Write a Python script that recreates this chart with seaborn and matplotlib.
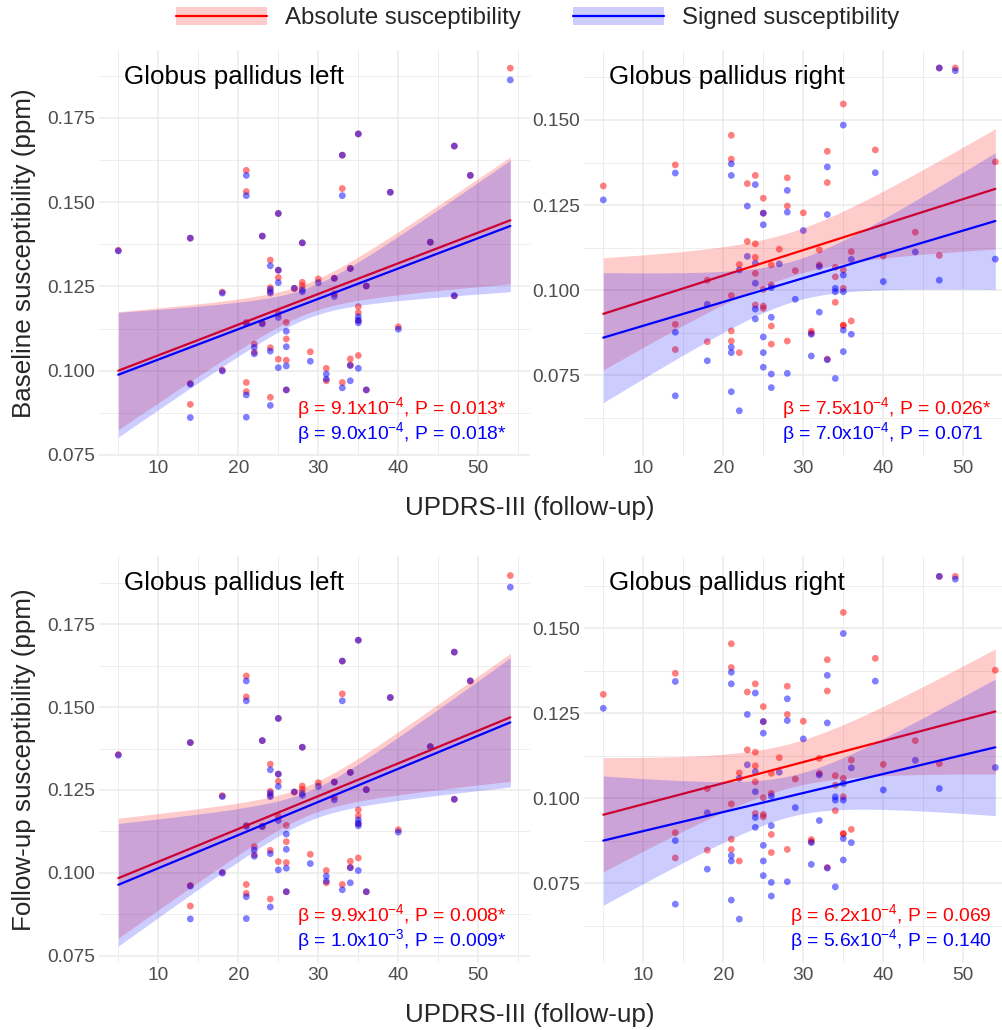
import numpy as np
import pandas as pd
import matplotlib
matplotlib.use("Agg")
import matplotlib.pyplot as plt
import seaborn as sns
from matplotlib.patches import Patch
from matplotlib.lines import Line2D
from matplotlib.legend_handler import HandlerTuple
from matplotlib.ticker import MultipleLocator, FormatStrFormatter

# ---------------------------------------------------------------- data
# UPDRS-III at follow-up, one entry per subject
updrs = [5, 14, 14, 14, 18, 18, 21, 21, 21, 21, 21, 22, 22, 23, 23,
         24, 24, 24, 24, 24, 25, 25, 25, 25, 25, 26, 26, 26, 26, 27,
         28, 28, 28, 29, 30, 31, 31, 32, 32, 33, 33, 33, 34, 34, 34,
         35, 35, 35, 35, 35, 36, 36, 39, 40, 44, 47, 47, 49, 54]

# globus pallidus susceptibility (ppm) per subject
gp_left_abs = [0.1357, 0.1393, 0.0962, 0.0900, 0.1233, 0.1002,
               0.1594, 0.1531, 0.1143, 0.0965, 0.0938, 0.1079, 0.1055,
               0.1399, 0.1141, 0.1328, 0.1246, 0.1234, 0.1068, 0.0921,
               0.1466, 0.1298, 0.1276, 0.1170, 0.1034, 0.1143, 0.1094,
               0.1031, 0.0943, 0.1244, 0.1379, 0.1252, 0.1262, 0.1056,
               0.1272, 0.1007, 0.0970, 0.1274, 0.1228, 0.1639, 0.1540,
               0.0965, 0.1303, 0.1035, 0.1017, 0.1702, 0.1190, 0.1148,
               0.1045, 0.1172, 0.1251, 0.0943, 0.1529, 0.1130, 0.1381,
               0.1666, 0.1222, 0.1579, 0.1897]
gp_left_sgn = [0.1355, 0.1393, 0.0960, 0.0861, 0.1230, 0.0999,
               0.1579, 0.1519, 0.1140, 0.0928, 0.0862, 0.1069, 0.1050,
               0.1399, 0.1139, 0.1311, 0.1241, 0.1230, 0.1058, 0.0897,
               0.1466, 0.1298, 0.1261, 0.1158, 0.1009, 0.1117, 0.1071,
               0.1014, 0.0943, 0.1244, 0.1379, 0.1234, 0.1240, 0.1028,
               0.1261, 0.0990, 0.0975, 0.1274, 0.1220, 0.1639, 0.1519,
               0.0949, 0.1303, 0.0970, 0.1015, 0.1702, 0.1160, 0.1142,
               0.1007, 0.1150, 0.1251, 0.0943, 0.1529, 0.1123, 0.1381,
               0.1666, 0.1222, 0.1579, 0.1862]
gp_right_abs = [0.1306, 0.1368, 0.0899, 0.0825, 0.1029, 0.0848,
                0.1455, 0.1385, 0.0984, 0.0880, 0.0850, 0.1075, 0.0816,
                0.1313, 0.1143, 0.1337, 0.1136, 0.1096, 0.1049, 0.0956,
                0.1270, 0.1226, 0.1002, 0.0953, 0.0946, 0.1074, 0.1015,
                0.0894, 0.0841, 0.1120, 0.1330, 0.1247, 0.0850, 0.1057,
                0.1227, 0.0879, 0.0873, 0.1118, 0.1074, 0.1408, 0.1316,
                0.0797, 0.1067, 0.1039, 0.0964, 0.1547, 0.1059, 0.1005,
                0.0897, 0.0895, 0.1113, 0.0909, 0.1412, 0.1100, 0.1170,
                0.1653, 0.1102, 0.1653, 0.1377]
gp_right_sgn = [0.1265, 0.1344, 0.0876, 0.0689, 0.0958, 0.0792,
                0.1371, 0.1337, 0.0832, 0.0816, 0.0701, 0.1059, 0.0645,
                0.1247, 0.1099, 0.1310, 0.1079, 0.1020, 0.0944, 0.0915,
                0.1192, 0.1226, 0.0862, 0.0816, 0.0773, 0.1007, 0.0920,
                0.0753, 0.0713, 0.1077, 0.1293, 0.1229, 0.0755, 0.0973,
                0.1175, 0.0806, 0.0870, 0.1069, 0.0935, 0.1362, 0.1222,
                0.0795, 0.1005, 0.0995, 0.0740, 0.1485, 0.1044, 0.0995,
                0.0882, 0.0819, 0.1090, 0.0870, 0.1345, 0.1025, 0.1112,
                0.1653, 0.1029, 0.1645, 0.1091]

# panel order: baseline-left, baseline-right, follow-up-left, follow-up-right
panel_titles = ["Globus pallidus left", "Globus pallidus right",
                "Globus pallidus left", "Globus pallidus right"]
row_titles = ["Baseline susceptibility (ppm)", "Follow-up susceptibility (ppm)"]
x_title = "UPDRS-III (follow-up)"
series_names = ["Absolute susceptibility", "Signed susceptibility"]

# model slopes and fitted value at UPDRS-III = 5
beta_abs = [9.1e-4, 7.5e-4, 9.9e-4, 6.2e-4]
beta_sgn = [9.0e-4, 7.0e-4, 1.0e-3, 5.6e-4]
fit5_abs = [0.1000, 0.0930, 0.0984, 0.0952]
fit5_sgn = [0.0988, 0.0860, 0.0964, 0.0876]
p_abs = ["0.013*", "0.026*", "0.008*", "0.069"]
p_sgn = ["0.018*", "0.071", "0.009*", "0.140"]
# 95% CI half-width at UPDRS 5, at its narrowest, and at UPDRS 54
ci_abs = [(0.0175, 0.0045, 0.0188), (0.0165, 0.0065, 0.0177),
          (0.0181, 0.0045, 0.0193), (0.0168, 0.0065, 0.0184)]
ci_sgn = [(0.0185, 0.0045, 0.0195), (0.0191, 0.0060, 0.0201),
          (0.0185, 0.0045, 0.0195), (0.0190, 0.0060, 0.0201)]

y_limits = [(0.0747, 0.1952), (0.0512, 0.1707), (0.0728, 0.1956), (0.0516, 0.1713)]

# ---------------------------------------------------------------- style
RED, BLUE = "#FF0000", "#0000FF"
sns.set_style("white")
plt.rcParams["font.family"] = ["Liberation Sans", "DejaVu Sans"]
plt.rcParams["mathtext.fontset"] = "custom"
plt.rcParams["mathtext.rm"] = "Liberation Sans"
plt.rcParams["mathtext.it"] = "Liberation Sans:italic"
plt.rcParams["mathtext.bf"] = "Liberation Sans:bold"

W, H = 1002, 1030
fig = plt.figure(figsize=(W / 100, H / 100), dpi=100)


def frac_rect(left, right, top, bottom):
    return [left / W, 1 - bottom / H, (right - left) / W, (bottom - top) / H]


cols = [(98.7, 530.0), (583.7, 1002.0)]
rows = [(49.6, 456.0), (556.0, 963.0)]
x_lo = 2.55
px_per_unit = 8.0


def half_width(x, h5, h0, h54):
    r = np.sqrt((h5 ** 2 - h0 ** 2) / (h54 ** 2 - h0 ** 2))
    xc = (5 + 54 * r) / (1 + r)
    k = (h54 ** 2 - h0 ** 2) / (54 - xc) ** 2
    return np.sqrt(h0 ** 2 + k * (x - xc) ** 2)


def beta_label(b, p):
    exp = int(np.floor(np.log10(abs(b))))
    mant = b / 10 ** exp
    return r"β = %.1fx10$^{\mathregular{%d}}$, P = %s" % (mant, exp, p)


points_by_col = [(gp_left_abs, gp_left_sgn), (gp_right_abs, gp_right_sgn)]
xs = np.linspace(5, 54, 200)
axes = []
for i in range(4):
    r, c = divmod(i, 2)
    left, right = cols[c]
    top, bottom = rows[r]
    ax = fig.add_axes(frac_rect(left, right, top, bottom))
    axes.append(ax)
    ax.set_xlim(x_lo, x_lo + (right - left) / px_per_unit)
    ax.set_ylim(*y_limits[i])

    ab, sg = points_by_col[c]
    df = pd.DataFrame({
        "updrs": updrs + updrs,
        "chi": list(ab) + list(sg),
        "measure": [series_names[0]] * len(ab) + [series_names[1]] * len(sg),
    })
    sns.scatterplot(data=df, x="updrs", y="chi", hue="measure",
                    palette={series_names[0]: RED, series_names[1]: BLUE},
                    alpha=0.5, s=24, linewidth=0, legend=False, ax=ax, zorder=1)

    z = 2
    for f5, b, ci, col in ((fit5_abs[i], beta_abs[i], ci_abs[i], RED),
                           (fit5_sgn[i], beta_sgn[i], ci_sgn[i], BLUE)):
        fit = f5 + b * (xs - 5)
        hw = half_width(xs, *ci)
        ax.fill_between(xs, fit - hw, fit + hw, color=col, alpha=0.2,
                        linewidth=0, zorder=z)
        sns.lineplot(x=xs, y=fit, color=col, linewidth=1.6, ax=ax, zorder=z + 1)
        z += 2

    # grid in the style of theme_minimal
    ax.xaxis.set_major_locator(MultipleLocator(10))
    ax.xaxis.set_minor_locator(MultipleLocator(5))
    ax.yaxis.set_major_locator(MultipleLocator(0.025))
    ax.yaxis.set_minor_locator(MultipleLocator(0.0125))
    ax.yaxis.set_major_formatter(FormatStrFormatter("%.3f"))
    ax.xaxis.set_major_formatter(FormatStrFormatter("%d"))
    ax.set_axisbelow(True)
    ax.grid(which="major", color="#EBEBEB", linewidth=1.1)
    ax.grid(which="minor", color="#EBEBEB", linewidth=0.6)
    ax.tick_params(which="both", length=0, labelsize=13.8, labelcolor="#4D4D4D")
    ax.tick_params(axis="y", pad=2.5)
    ax.tick_params(axis="x", pad=3)
    for s in ax.spines.values():
        s.set_visible(False)
    ax.set_xlabel("")
    ax.set_ylabel("")

    # panel title
    ax.text(25 / (right - left), 1 - 34 / (bottom - top), panel_titles[i],
            transform=ax.transAxes, fontsize=18.7, color="black",
            ha="left", va="baseline")

# statistics boxes: lines left-aligned inside a right-aligned block
fig.canvas.draw()
renderer = fig.canvas.get_renderer()
for i, ax in enumerate(axes):
    r, c = divmod(i, 2)
    left, right = cols[c]
    top, bottom = rows[r]
    ph = bottom - top
    t1 = ax.text(0, (17 + 24.7) / ph, beta_label(beta_abs[i], p_abs[i]),
                 transform=ax.transAxes, color=RED, fontsize=13.9,
                 ha="left", va="baseline")
    t2 = ax.text(0, 17 / ph, beta_label(beta_sgn[i], p_sgn[i]),
                 transform=ax.transAxes, color=BLUE, fontsize=13.9,
                 ha="left", va="baseline")
    wmax = max(t.get_window_extent(renderer).width for t in (t1, t2))
    right_px = left + (53.575 - x_lo) * px_per_unit
    x_frac = (right_px - wmax - left) / (right - left)
    t1.set_x(x_frac)
    t2.set_x(x_frac)

# shared axis titles
for r, (top, bottom) in enumerate(rows):
    fig.text(24 / W, 1 - ((top + bottom) / 2) / H, row_titles[r],
             rotation=90, fontsize=18.7, ha="center", va="center")
    fig.text(530 / W, 1 - (bottom + 59) / H, x_title,
             fontsize=18.7, ha="center", va="baseline")

handles = [(Patch(facecolor=RED, alpha=0.2, edgecolor="none"),
            Line2D([], [], color=RED, linewidth=1.6)),
           (Patch(facecolor=BLUE, alpha=0.2, edgecolor="none"),
            Line2D([], [], color=BLUE, linewidth=1.6))]
fig.legend(handles, series_names, handler_map={tuple: HandlerTuple(ndivide=1, pad=0)},
           loc="center", bbox_to_anchor=(538 / W, 1 - 18 / H), ncol=2,
           frameon=False, fontsize=17.3, handlelength=3.79, handleheight=0.75,
           handletextpad=0.75, columnspacing=2.17, borderpad=0, borderaxespad=0)

fig.savefig("out.png", dpi=100)
